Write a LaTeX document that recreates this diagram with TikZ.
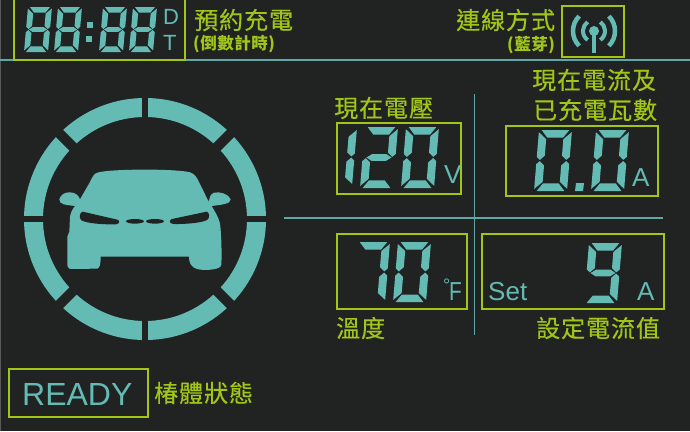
\documentclass[tikz,border=0pt]{standalone}
\usepackage{fontspec}
\setmainfont{Liberation Sans}
\newfontfamily\cjk[LetterSpace=4,FakeBold=0.3]{Noto Sans CJK TC}
\newfontfamily\cjkb[LetterSpace=3]{Noto Sans CJK TC}
\definecolor{bgd}{HTML}{212323}
\definecolor{lcd}{HTML}{64BBB4}
\definecolor{lim}{HTML}{A2C617}
\definecolor{rul}{HTML}{5FA8A5}
\tikzset{
  lcdbox/.style={draw=lim,line width=2.2pt},
  rule/.style={draw=rul,line width=1.2pt},
  lab/.style={text=lim,font=\cjk\fontsize{24}{24}\selectfont,inner sep=0pt,anchor=west},
  sublab/.style={text=lim,font=\cjkb\bfseries\fontsize{16.5}{16.5}\selectfont,inner sep=0pt,anchor=west},
  unit/.style={text=lcd,inner sep=0pt,anchor=base west,font=\fontsize{26}{26}\selectfont}
}
\def\sega{(.08,0)--(.92,0)--(.75,.125)--(.27,.125)--cycle}
\def\segb{(1,.035)--(1,.44)--(.9,.49)--(.76,.42)--(.76,.15)--cycle}
\def\segc{(1,.56)--(1,.965)--(.76,.85)--(.76,.58)--(.9,.51)--cycle}
\def\segd{(.08,1)--(.92,1)--(.73,.875)--(.25,.875)--cycle}
\def\sege{(0,.56)--(0,.965)--(.24,.85)--(.24,.58)--(.1,.51)--cycle}
\def\segf{(0,.035)--(0,.44)--(.1,.49)--(.24,.42)--(.24,.15)--cycle}
\def\segg{(.12,.5)--(.28,.445)--(.72,.445)--(.88,.5)--(.72,.555)--(.28,.555)--cycle}
\newcommand\lcddigit[6]{%
  \begin{scope}[shift={(#1,#2)},x={(#3pt,0pt)},y={(-#5pt,-#4pt)}]
    \foreach \k in {#6} {\fill[lcd] \csname seg\k\endcsname;}
  \end{scope}}
\begin{document}
\begin{tikzpicture}[x=1pt,y=-1pt]
\useasboundingbox (0,0) rectangle (690,431);
\fill[bgd] (0,0) rectangle (690,431);
\draw[gray!70!black,line width=1pt] (0.5,0) -- (0.5,431);
% rules
\coordinate (ra) at (0,60); \coordinate (rb) at (690,60);
\coordinate (rc) at (284,218); \coordinate (rd) at (663,218);
\coordinate (re) at (474.5,94); \coordinate (rf) at (474.5,335);
\draw[rule] (ra) -- (rb);
\draw[rule] (rc) -- (rd);
\draw[rule] (re) -- (rf);
% boxes
\draw[lcdbox] (14,-5) rectangle (185,60);
\draw[lcdbox] (562,6) rectangle (624,57);
\draw[lcdbox] (337,123) rectangle (461,194);
\draw[lcdbox] (506,126) rectangle (658,196);
\draw[lcdbox] (337,234) rectangle (467,309);
\draw[lcdbox] (482,234) rectangle (664,309);
\draw[lcdbox] (9,369) rectangle (148,417);
% clock digits
\lcddigit{28}{7}{24}{45}{4}{a,b,c,d,e,f,g}
\lcddigit{58}{7}{24}{45}{4}{a,b,c,d,e,f,g}
\lcddigit{103}{7}{24}{45}{4}{a,b,c,d,e,f,g}
\lcddigit{133}{7}{24}{45}{4}{a,b,c,d,e,f,g}
\fill[lcd] (87,22) rectangle (93,28);
\fill[lcd] (86,36) rectangle (92,42);
\node[unit,font=\fontsize{22}{22}\selectfont] (d) at (163,24) {D};
\node[unit,font=\fontsize{22}{22}\selectfont] (t) at (163,50) {T};
% 120
\lcddigit{325}{128}{32}{58}{5}{b,c}
\lcddigit{365}{127}{33}{61}{5}{a,b,d,e,g}
\lcddigit{406}{127}{33}{61}{5}{a,b,c,d,e,f}
\node[unit] (v) at (444,183) {V};
% 0.0
\lcddigit{539}{130}{33}{61}{5}{a,b,c,d,e,f}
\lcddigit{596}{130}{33}{61}{5}{a,b,c,d,e,f}
\fill[lcd] (576,183) -- (584,183) -- (583,191) -- (575,191) -- cycle;
\node[unit] (a1) at (632,186) {A};
% 70
\lcddigit{357}{242}{33}{60}{5}{a,b,c}
\lcddigit{398}{242}{33}{60}{5}{a,b,c,d,e,f}
\node[unit,font=\fontsize{18}{18}\selectfont] (deg) at (443,291) {°};
\node[unit] (f) at (449,300) {\scalebox{.8}[1]{F}};
% 9
\lcddigit{589}{243}{33}{60}{5}{a,b,c,d,f,g}
\node[unit] (a2) at (637,300) {A};
\node[unit] (set) at (488,300) {Set};
\node[unit,font=\fontsize{32}{32}\selectfont] (ready) at (22,405) {READY};
% labels
\node[lab] (l1) at (194,20) {預約充電};
\node[sublab] (l2) at (193,44) {(倒數計時)};
\node[lab] (l3) at (456,20) {連線方式};
\node[sublab] (l4) at (507,45) {(藍芽)};
\node[lab] (l5) at (334,108) {現在電壓};
\node[lab] (l6) at (532,80) {現在電流及};
\node[lab] (l7) at (533,110) {已充電瓦數};
\node[lab] (l8) at (336,328) {溫度};
\node[lab] (l9) at (536,328) {設定電流值};
\node[lab] (l10) at (154,393) {椿體狀態};
% antenna
\coordinate (ant) at (594,31);
\fill[lcd] (ant) circle (5);
\coordinate (antb) at (594,53);
\draw[lcd,line width=4pt] (ant) -- (antb);
\draw[lcd,line width=4pt] (ant) ++(125:11) arc (125:235:11);
\draw[lcd,line width=4pt] (ant) ++(55:11) arc (55:-55:11);
\draw[lcd,line width=4.5pt] (ant) ++(135:21) arc (135:225:21);
\draw[lcd,line width=4.5pt] (ant) ++(45:21) arc (45:-45:21);
% ring
\fill[lcd,even odd rule] (145,219) circle (121) (145,219) circle (102);
\draw[bgd,line width=6.5pt] (145,90) -- (145,348);
\draw[bgd,line width=6.5pt] (16,219) -- (274,219);
\draw[bgd,line width=10pt] (54,128) -- (236,310);
\draw[bgd,line width=10pt] (54,310) -- (236,128);
% car
\begin{scope}[shift={(10,90)},x=0.3333pt,y=-0.3333pt]
\fill[lcd] (262,248) .. controls (300,236) and (500,236) .. (540,247)
 .. controls (555,252) and (560,262) .. (566,274) -- (596,335)
 .. controls (600,325) and (598,314) .. (612,308)
 .. controls (630,304) and (656,312) .. (662,328)
 .. controls (664,342) and (630,345) .. (605,348)
 .. controls (615,365) and (625,380) .. (630,400)
 .. controls (634,430) and (636,490) .. (634,525)
 .. controls (632,534) and (620,538) .. (590,540)
 .. controls (560,540) and (537,535) .. (537,500)
 -- (272,500)
 .. controls (272,520) and (270,534) .. (262,536)
 -- (180,537) .. controls (174,535) and (172,530) .. (172,520)
 -- (172,440) -- (178,425) -- (180,380)
 .. controls (182,365) and (190,355) .. (195,348)
 .. controls (170,345) and (146,344) .. (148,328)
 .. controls (152,314) and (165,306) .. (180,307)
 .. controls (197,307) and (207,318) .. (210,328)
 -- (240,276) .. controls (248,258) and (254,250) .. (262,248) -- cycle;
\fill[bgd] (218,365) -- (322,389) .. controls (330,392) and (330,401) .. (318,403)
 .. controls (280,404) and (226,400) .. (213,390)
 .. controls (207,382) and (209,367) .. (218,365) -- cycle;
\fill[bgd] (590,365) -- (486,387) .. controls (477,390) and (477,401) .. (490,402)
 .. controls (530,403) and (582,398) .. (594,388)
 .. controls (599,382) and (599,367) .. (590,365) -- cycle;
\fill[bgd] (375,394) ellipse [x radius=27,y radius=7];
\fill[bgd] (435,394) ellipse [x radius=27,y radius=7];
\end{scope}
\end{tikzpicture}
\end{document}
